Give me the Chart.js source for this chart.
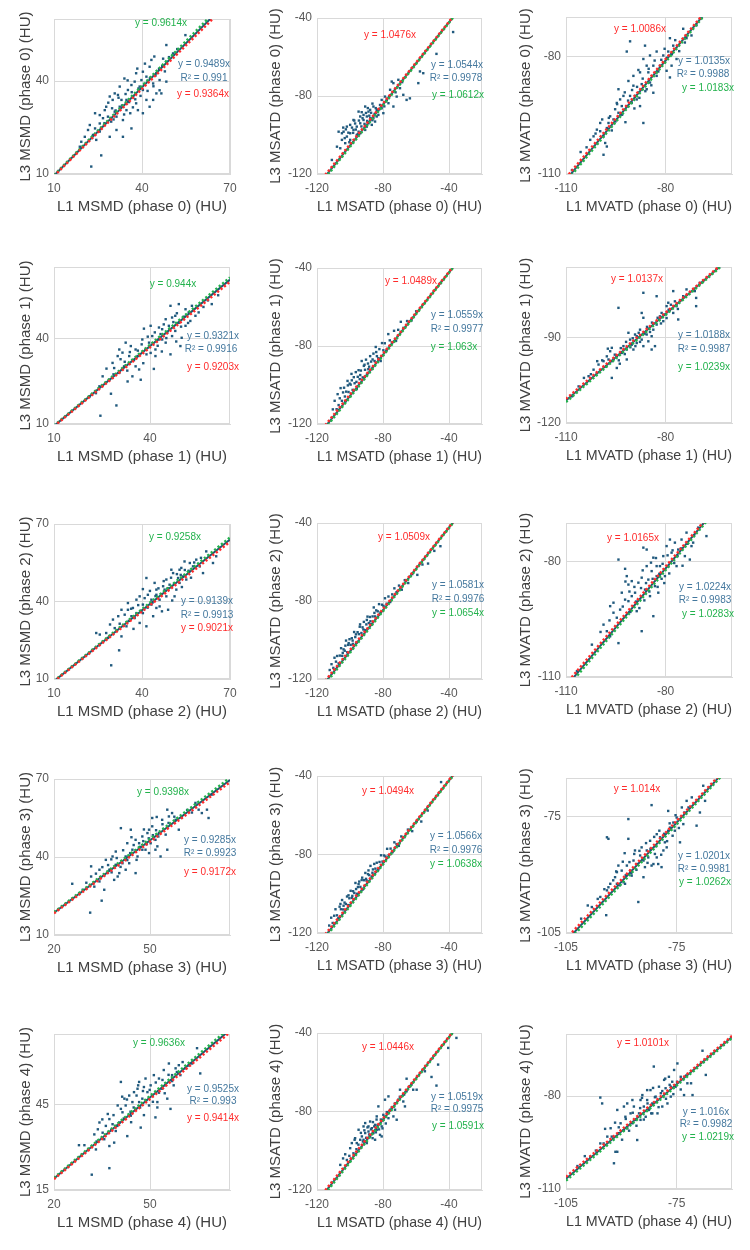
<!DOCTYPE html>
<html>
<head>
<meta charset="utf-8">
<script src="https://cdn.jsdelivr.net/npm/chart.js@4.4.0/dist/chart.umd.min.js"></script>
<style>
  body { margin: 0; background: #fff; width: 750px; height: 1250px; position: relative; overflow: hidden; }
  .cell { position: absolute; width: 250px; height: 250px; }
</style>
</head>
<body>
<script>
// measures and phases (panel order: row = phase, column = measure)
const measures = ['MSMD', 'MSATD', 'MVATD'];
const phases = [0, 1, 2, 3, 4];

// fitted slopes
const redSlopes   = [0.9364, 1.0476, 1.0086, 0.9203, 1.0489, 1.0137, 0.9021, 1.0509, 1.0165, 0.9172, 1.0494, 1.014, 0.9414, 1.0446, 1.0101];
const blueSlopes  = [0.9489, 1.0544, 1.0135, 0.9321, 1.0559, 1.0188, 0.9139, 1.0581, 1.0224, 0.9285, 1.0566, 1.0201, 0.9525, 1.0519, 1.016];
const greenSlopes = [0.9614, 1.0612, 1.0183, 0.944, 1.063, 1.0239, 0.9258, 1.0654, 1.0283, 0.9398, 1.0638, 1.0262, 0.9636, 1.0591, 1.0219];
const r2Values    = [0.991, 0.9978, 0.9988, 0.9916, 0.9977, 0.9987, 0.9913, 0.9976, 0.9983, 0.9923, 0.9976, 0.9981, 0.993, 0.9975, 0.9982];

// axis ranges and tick labels
const xRanges = [[10,70],[-120,-20],[-110,-60],[10,65],[-120,-20],[-110,-60],[10,70],[-120,-20],[-110,-60],[20,75],[-120,-20],[-105,-60],[20,75],[-120,-20],[-105,-60]];
const yRanges = [[10,60],[-120,-40],[-110,-70],[10,65],[-120,-40],[-120,-65],[10,70],[-120,-40],[-110,-70],[10,70],[-120,-40],[-105,-65],[15,70],[-120,-40],[-110,-60]];
const xTicks = [[10,40,70],[-120,-80,-40],[-110,-80],[10,40],[-120,-80,-40],[-110,-80],[10,40,70],[-120,-80,-40],[-110,-80],[20,50],[-120,-80,-40],[-105,-75],[20,50],[-120,-80,-40],[-105,-75]];
const yTicks = [[10,40],[-120,-80,-40],[-110,-80],[10,40],[-120,-80,-40],[-120,-90],[10,40,70],[-120,-80,-40],[-110,-80],[10,40,70],[-120,-80,-40],[-105,-75],[15,45],[-120,-80,-40],[-110,-80]];

// scatter points (L1, L3)
const msmd0 = [[22.7,12.4],[26.1,16],[18.8,18.8],[24.4,21],[25.6,23.7],[29,22],[31.3,24.2],[33.5,22],[36.4,24.7],[34,40.8],[25.6,29],[27.8,31.7],[30,33.9],[31.8,35.5],[34.7,33.9],[37,35],[38,32.8],[41.5,33.9],[39.2,38.2],[41.5,41.4],[43.8,39.2],[46,37],[46.6,36],[44.9,42.5],[48.3,46.2],[50.6,48.9],[48.3,51.6],[54.8,54.8],[47.2,47.2],[42.6,44.6],[40.3,43],[38,42.5],[36.4,38.7],[32.4,38.2],[30.7,36],[29,35],[27.3,30.6],[26.7,28],[24,29.6],[22.2,25.8],[21.6,24.2],[20.5,22],[19.3,20.4],[31.3,28.5],[33.5,27.4],[36,29.6],[38.6,30.6],[40.3,29.6],[42.6,31.7],[43.8,33.9],[44.9,36],[46,40.3],[48.3,39.8],[43.2,46.8],[40.3,37.1],[32.4,31.7],[30.7,30.1],[33,33.9],[35.2,37.1],[37.5,39.8],[39.8,40.3],[34.7,30.6],[29.5,26.9],[25.6,26.3],[24,24.7],[28.4,28.5],
  [28.5,33],[29.8,31.2],[31,30.5],[32,34.6],[33.2,32.1],[34.4,35.8],[35.6,33.2],[36.5,36.4],[37.7,34.1],[38.8,37.6],[39.5,35.2],[40.8,38.9],[41.9,36.8],[42.7,40.9],[43.9,38.3],[44.6,41.8],[45.8,43.9],[46.9,44.8],[47.8,43.1],[49.2,47.7],[36.9,31.5],[33.9,29.2],[30.3,27.6],[27.2,26.4],[23.3,22.6],[35.1,40.2],[38.4,44],[41,45.6],[44.2,47.9],[52,50.3]];
const msatd0 = [[-107.9,-106],[-111,-112.8],[-104.9,-102.5],[-103.9,-98.3],[-101.9,-100.8],[-99.9,-99.1],[-97.9,-97.4],[-95.9,-95.7],[-93.8,-94],[-91.8,-92.3],[-89.8,-90.5],[-88.8,-88],[-87.8,-87.1],[-85.8,-85.4],[-83.8,-87.1],[-81.8,-84.6],[-80.8,-82],[-78.8,-80.3],[-75.7,-76.8],[-73.7,-73.4],[-70.7,-71.7],[-74.7,-72.6],[-69.7,-76],[-67.7,-79.4],[-65.7,-82],[-63.7,-81.2],[-73.7,-85.4],[-76.7,-83.7],[-79.8,-88.8],[-83.8,-90.5],[-86.8,-94.8],[-90.8,-97.4],[-93.8,-99.1],[-95.9,-100],[-99.9,-102.5],[-102.9,-104.2],[-105.9,-106.8],[-106.9,-98.3],[-104.9,-99.1],[-101.9,-95.7],[-99.9,-94.8],[-93.8,-90.5],[-91.8,-89.7],[-88.8,-94],[-85.8,-91.4],[-82.8,-89.7],[-80.8,-86.3],[-77.7,-82],[-71.7,-80.3],[-57.6,-67.4],[-55.6,-68.3],[-58.6,-73.4],[-47.6,-58.4],[-37.5,-47.2],[-90.8,-85.4],[-94.8,-88],[-97.9,-92.3],[-87.8,-91.4],[-84.8,-93.1],[-89.8,-95.7],[-94.8,-98.3],
  [-103.2,-101.6],[-102.5,-97.1],[-101,-98.8],[-100.4,-103.7],[-98.8,-96.2],[-98.1,-98.9],[-96.9,-94.1],[-96.5,-97.2],[-95.3,-99.6],[-94.6,-92.6],[-93.1,-95.6],[-92.4,-91.4],[-91.2,-94.3],[-90.3,-88.7],[-89.6,-92.8],[-88.3,-90.1],[-87.2,-88.6],[-86.4,-92.4],[-85.1,-89.2],[-84.4,-86.2],[-82.2,-86.8],[-79.2,-85.3],[-76.3,-80.2],[-72.4,-78.1],[-68.4,-72.9],[-104.1,-96.2],[-97.4,-92.6],[-92.9,-88.3],[-89.2,-86.2],[-86.4,-83.9]];
const mvatd0 = [[-108.2,-109],[-102.7,-101.3],[-99.7,-97],[-100.7,-98.7],[-97.7,-98.3],[-98.7,-100.4],[-98.2,-102.1],[-97.7,-103],[-98.7,-105.1],[-96.7,-95.3],[-95.2,-93.5],[-94.2,-94.4],[-93.7,-91],[-94.2,-88.4],[-92.7,-90.1],[-91.7,-92.7],[-90.7,-90.1],[-91.2,-86.3],[-89.7,-87.5],[-88.7,-91],[-87.7,-92.7],[-86.7,-97],[-86.7,-80.7],[-91.7,-78.8],[-90.7,-76.2],[-86.2,-77.3],[-85.7,-82.4],[-85.2,-84.1],[-84.7,-86.7],[-83.7,-89.3],[-82.7,-85],[-81.7,-82.4],[-80.7,-79.8],[-80.2,-81.5],[-79.2,-78.8],[-78.7,-75.4],[-77.7,-77.3],[-78.2,-82.4],[-78.7,-85.4],[-76.7,-80.7],[-74.7,-73],[-73.7,-75.4],[-72.2,-74.7],[-70.7,-72.1],[-82.7,-78.8],[-84.7,-79.8],[-87.7,-84.1],[-89.7,-85],[-85.7,-88.4],[-89.2,-90.1],[-93.2,-92.7],[-95.7,-96.1],[-97.2,-97],[-94.7,-91.9],[-90.2,-91.9],[-88.2,-89.3],[-87.2,-87.1],[-99.7,-99.1],[-101.7,-100.4],[-83.7,-82.4],[-79.7,-83.7],
  [-97.1,-95.7],[-96.2,-98.9],[-95.1,-96.6],[-94.6,-92.2],[-93.1,-94.9],[-92.3,-89.2],[-91.3,-91.3],[-90.1,-88.6],[-89.4,-93.3],[-88.6,-87.8],[-87.9,-90.6],[-86.9,-85.7],[-86.1,-88.9],[-85.1,-83.2],[-84.3,-87.4],[-83.3,-81.1],[-82.2,-83.9],[-81.3,-80.9],[-80.3,-78.1],[-79.6,-80.4],[-78.1,-79.5],[-77.1,-75.9],[-75.9,-78.7],[-74.2,-76.5],[-101.1,-99.7],[-103.8,-103.2],[-105.6,-104.4],[-99.1,-96.1],[-92.1,-96.8],[-88.2,-83.5]];
const msmd1 = [[24.5,12.9],[29.5,16.5],[27.8,20.6],[26.2,24.4],[26.4,29.4],[28.3,31.4],[29.9,33.8],[30.4,27.9],[31.9,30.2],[33,24.9],[34.5,26.7],[35.5,30.2],[36.6,29.1],[37.1,25.5],[34,37.3],[35.5,36.1],[38.1,43.4],[38.6,36.1],[39.7,38.5],[40.7,40.8],[41.2,29.3],[41.7,36.1],[42.8,39.6],[43.8,43.2],[44.9,38.5],[45.9,44.4],[46.4,34.4],[46.9,40.8],[47.9,47.9],[49,45.5],[49.5,37.3],[49.9,40.2],[46.4,51.4],[46.9,47.3],[49,52],[51.1,50.2],[52.1,49.1],[53.1,51.4],[54.2,47.9],[55.2,49.1],[59.3,52],[52.6,46.1],[51.1,44.4],[44.9,46.7],[43.8,39.6],[37.6,39.6],[36.1,33.8],[33.5,33.8],[31.4,35],[30.4,36.1],[32.4,38.5],[28.8,29.6],[27.3,25.5],[24.2,23.2],[23.1,20.8],[21.1,19.6],[42.8,43.8],[40.2,44.4],[45.4,42],[47.9,42.6],[41.7,33.8],[40.2,34.9],
  [30.8,32.7],[32.1,31.8],[33.7,35.2],[35,32.4],[36.2,35.7],[37.4,37.9],[38.9,34.4],[39.3,40.6],[40.9,38.1],[41.5,42.1],[42.4,37.4],[43.3,41.5],[44.3,44.9],[45.1,40.1],[46.1,43.2],[47.3,45.7],[48.4,48.8],[49.7,44.1],[50.6,47.6],[51.9,45.4],[53.6,49.8],[56.7,51],[58.1,53.3],[61.3,55.1],[25.2,26.7],[28.6,27.4],[32.9,28.7],[37.9,31.3],[43.7,35.4],[48.2,38.9]];
const msatd1 = [[-110.4,-112.5],[-109.3,-108.1],[-108.1,-112.4],[-107.5,-104.7],[-106.2,-106.8],[-105.7,-101.6],[-104.9,-108.1],[-104.2,-103.8],[-103.6,-101.4],[-102.8,-108.5],[-102.3,-103.4],[-101.5,-97.9],[-100.9,-103.6],[-100.2,-99.3],[-99.6,-99.8],[-99.1,-94.3],[-98.4,-102.5],[-97.7,-96],[-97.2,-99.1],[-96.5,-93.4],[-95.9,-102.1],[-95.3,-95.8],[-94.8,-92.4],[-94.1,-97],[-93.4,-92.6],[-92.9,-87.7],[-92.3,-96.1],[-91.6,-90.2],[-90.9,-92.2],[-90.3,-87],[-89.7,-94.6],[-89.1,-89],[-88.4,-90.6],[-87.8,-85.2],[-87.2,-88],[-86.5,-91.6],[-85.8,-83.9],[-85.1,-87.7],[-84.4,-80.5],[-83.7,-85.2],[-82.9,-86.3],[-82.2,-81.6],[-81.4,-87.7],[-80.6,-78.5],[-79.8,-82.2],[-78.9,-78.6],[-77.9,-82.3],[-76.8,-73.9],[-75.9,-77.1],[-74.6,-78.2],[-73.3,-72.2],[-72.1,-77.4],[-70.8,-71.7],[-69.2,-67.6],[-67.6,-70.7],[-65.4,-67.2],[-62.7,-66.9],[-59.9,-62.2],[-45.1,-47.7],
  [-101.3,-100.2],[-98.9,-97.6],[-96.1,-98.4],[-93.8,-94.9],[-91.2,-89.6],[-88.9,-91.9],[-86.3,-86.9],[-84.1,-83.1],[-106.9,-110.3],[-103.1,-105.9]];
const mvatd1 = [[-108.2,-110.6],[-106.2,-107.1],[-103.2,-103.5],[-100.2,-99.4],[-97.2,-97.6],[-96.7,-94.7],[-96.2,-104.1],[-94.7,-100.6],[-93.2,-95.3],[-92.7,-92.9],[-91.7,-94.1],[-91.2,-88.2],[-90.7,-90.6],[-89.2,-88.8],[-88.7,-91.8],[-91.7,-97.6],[-87.7,-87.1],[-86.7,-92.9],[-86.7,-82.9],[-85.7,-88.8],[-85.2,-91.2],[-84.2,-94.1],[-83.7,-87.1],[-83.2,-92.9],[-82.7,-85.3],[-94.2,-79.4],[-87.2,-81.2],[-86.7,-74.1],[-82.7,-75.3],[-81.7,-82.4],[-80.7,-84.1],[-79.7,-78.8],[-79.2,-77.6],[-78.7,-80],[-77.7,-73.5],[-77.7,-81.2],[-76.7,-78.8],[-76.2,-83.5],[-74.7,-75.3],[-73.7,-72.9],[-71.2,-73.5],[-70.8,-75.9],[-70.8,-78.8],[-69.7,-70.6],[-68.7,-70],[-97.7,-96.5],[-98.7,-98.2],[-100.7,-102.4],[-101.7,-101.2],[-89.7,-94.1],[-88.7,-89.4],[-87.2,-90.6],[-84.2,-89.4],[-94.7,-96.5],[-95.7,-97.6],[-90.2,-92.4],[-79.7,-83],[-81.2,-81.2],[-96.2,-93.5],
  [-99.1,-97.9],[-97.9,-100.1],[-96.1,-98.2],[-95.3,-95.9],[-94.1,-97.9],[-93.5,-93.6],[-92.3,-95.7],[-91.9,-91.4],[-90.6,-93.3],[-89.9,-90.1],[-89.1,-92.9],[-88.1,-88.2],[-87.7,-91.4],[-86.3,-88.5],[-85.6,-86.1],[-84.7,-87.9],[-84.1,-84.6],[-82.4,-82.9],[-81.4,-84.9],[-80.4,-81.8],[-79.1,-80.1],[-78.4,-78.3],[-77.2,-77.1],[-76.3,-79.8],[-75.4,-76.7],[-104.6,-104.1],[-102.5,-102.8],[-100.6,-98.2],[-97.4,-93.8],[-93.8,-99.1]];
const msmd2 = [[29.5,15.3],[32.2,21.1],[25.6,27.2],[30.1,33],[30.7,29.7],[33,26.5],[34.7,30.4],[35.2,36.8],[33,36.8],[35.2,39.4],[36.9,37.5],[38.1,35.5],[39.2,42],[39.2,31.7],[40.3,35.5],[41.5,30.4],[41.5,49.1],[40.3,44.8],[42,42.6],[43.2,40.7],[43.8,34.3],[44.3,47.2],[44.9,44.6],[46,40.7],[46,38.1],[47.2,45.9],[48.3,48.5],[48.3,42],[48.9,36.8],[49.4,46.5],[50.6,51],[51.1,42],[51.7,44.6],[52.8,52.3],[52.8,47.2],[53.4,53],[54,49.7],[55.1,48.5],[56.3,54.9],[57.4,53.6],[58.5,56.2],[59.7,53.6],[60.8,51],[61.9,59.4],[64.2,54.9],[65.3,57.5],[54.5,55.5],[50,52.3],[44.9,42.6],[38.1,40.7],[36.4,34.3],[34.1,34.9],[31.9,34.3],[27.8,27.8],[28.4,25.9],[25.6,23.3],[24.4,27.8],[43.2,38.8],[47.7,44.6],[40.3,38.8],[44.9,37.5],[52.3,49.1],
  [36.3,37.2],[37.5,33.6],[38.7,38.6],[39.8,36.4],[40.9,41.3],[41.9,37.6],[42.7,44.1],[43.6,39.6],[44.6,42.1],[45.6,45.1],[46.6,42.9],[47.4,47.9],[48.8,45.1],[49.9,49.2],[50.9,46.8],[51.9,50.6],[53.2,50.3],[54.6,52.2],[55.9,51.9],[57.8,55.1],[60.1,56.9],[62.8,57.6],[32.4,31.4],[35.5,32.5],[37.1,29.4],[29.1,31.1],[46.8,36.2],[50.3,40.4],[53.6,45.6],[56.7,49.2]];
const msatd2 = [[-112.3,-115.4],[-111.2,-112.4],[-110.1,-114.3],[-109.4,-109.1],[-108.5,-111.1],[-107.8,-108.2],[-106.9,-112],[-106.2,-108],[-105.4,-104.2],[-104.7,-108.1],[-103.9,-104.8],[-103.2,-105.5],[-102.4,-100.3],[-101.7,-106.3],[-101.1,-102.5],[-100.3,-99.6],[-99.6,-102.5],[-98.9,-99.1],[-98.2,-102],[-97.5,-95.9],[-96.8,-98.5],[-96.1,-101.4],[-95.4,-96],[-94.6,-97],[-93.9,-92],[-93.1,-96.4],[-92.4,-93.5],[-91.6,-90.7],[-90.9,-95],[-90.1,-92],[-89.4,-88],[-88.6,-91.3],[-87.9,-88.2],[-87.1,-91.9],[-86.3,-87.9],[-85.6,-83.3],[-84.8,-87.9],[-84.1,-84.8],[-83.2,-85.3],[-82.4,-81.6],[-81.5,-85.9],[-80.6,-81.9],[-79.7,-82.5],[-78.8,-78.6],[-77.8,-81.4],[-76.7,-77.7],[-75.6,-80.5],[-74.4,-76.6],[-73.1,-73.5],[-71.8,-75.5],[-70.3,-72.1],[-68.6,-74.2],[-66.8,-69.3],[-64.7,-70.8],[-62.3,-66.2],[-59.2,-66.6],[-56.1,-61.3],[-52.7,-60.8],[-48.9,-54.3],[-45.2,-51.9],
  [-100.8,-101.6],[-98.4,-100.3],[-96.4,-97.1],[-94.1,-93.2],[-91.9,-94.6],[-89.8,-89.7],[-87.6,-90.4],[-85.2,-86.1],[-104.4,-106.6],[-102.8,-102.9]];
const mvatd2 = [[-106.7,-108.5],[-102.2,-101.6],[-98.7,-96.4],[-97.7,-98.1],[-96.7,-99.4],[-95.7,-93.3],[-94.2,-101.2],[-94.7,-94.6],[-94.2,-79.5],[-92.2,-81.9],[-91.7,-83.8],[-91.2,-86],[-91.2,-90.3],[-90.2,-89],[-89.7,-91.6],[-89.2,-88.1],[-88.7,-92.9],[-88.2,-85.5],[-87.7,-89.9],[-87.2,-98.1],[-86.7,-76.4],[-86.2,-87.3],[-85.7,-76.9],[-85.2,-84.7],[-84.7,-89],[-84.2,-82.5],[-83.7,-94.2],[-83.2,-86.4],[-82.7,-83.8],[-82.2,-88.1],[-81.7,-81.2],[-81.2,-84.5],[-80.7,-78.6],[-80.2,-83.8],[-79.7,-76],[-79.2,-81.2],[-78.7,-74.3],[-78.2,-77.7],[-77.7,-79.5],[-77.2,-75.1],[-76.7,-81.2],[-76.2,-76.9],[-75.2,-74.3],[-74.2,-78.6],[-73.7,-72.5],[-72.7,-79.5],[-72.2,-76],[-71.7,-75.1],[-70.2,-71.2],[-67.7,-73.4],[-93.2,-88.1],[-95.7,-90.7],[-96.7,-91.6],[-93.7,-92.5],[-92.2,-89.9],[-85.7,-81.2],[-82.7,-81.2],[-83.7,-79],[-87.2,-84.2],[-90.2,-85.1],
  [-92.9,-91.7],[-92.1,-85.2],[-90.9,-87.8],[-90.6,-93.1],[-89.4,-86.6],[-88.9,-90.4],[-87.9,-92.1],[-87.4,-86.9],[-86.9,-82.3],[-86.4,-90.1],[-85.9,-85.6],[-84.9,-87.8],[-84.4,-80.3],[-83.9,-84.5],[-82.9,-79.1],[-82.4,-86.6],[-81.9,-83.2],[-80.9,-80.6],[-80.4,-85.6],[-79.4,-78.4],[-78.9,-83.1],[-77.9,-77.1],[-77.4,-80.4],[-76.4,-78.6],[-75.4,-76.6],[-74.9,-81.1],[-73.4,-75.4],[-71.4,-73.2],[-96.9,-95.3],[-99.6,-98.3]];
const msmd3 = [[31.3,18.6],[34.9,23.2],[35.7,27.4],[25.7,29.7],[31.6,32.5],[31.6,36.4],[34.2,35.1],[36.2,38.9],[38.3,40.2],[39.3,37],[40.4,33.8],[39.9,32.5],[42.4,40.2],[42.9,45.3],[43.5,37.6],[44.5,42.8],[45.5,33.8],[46.1,40.2],[46.6,45.3],[47.6,47.9],[48.6,42.8],[49.2,49.2],[50.2,45.3],[50.7,51.8],[51.7,46.6],[52.3,44.1],[52.8,49.2],[53.3,40.2],[53.8,54.3],[54.3,50.5],[55.4,58.2],[55.9,55.6],[56.9,56.9],[58,54.3],[59,50.5],[50.7,55],[40.9,51.1],[44,50.5],[69.3,64],[67.8,58.2],[66.2,56.9],[64.2,60.8],[68.3,55],[65.2,58.2],[55.4,42.8],[39.3,42.1],[37.3,35.1],[35.7,33.1],[34.2,30.6],[32.6,28.6],[29,27.4],[38.8,31.2],[47.6,42.8],[49.7,41.5],[45.5,46.6],[41.4,37.6],[42.4,35.1],[51.7,42.8],[56.4,52.4],[49.7,50.5],
  [36.9,36.9],[38,34.1],[39.6,39.6],[40.8,36.2],[41.6,42.6],[42.9,38.8],[43.8,41.5],[44.9,44.6],[45.8,38.9],[46.9,43.9],[47.9,46.1],[48.9,44.9],[49.6,47.2],[50.9,48.4],[51.9,50.3],[52.6,47.9],[53.9,52.6],[54.9,48.6],[55.8,53.1],[57.6,55.5],[59.9,55.2],[61.6,58.1],[63.1,57.1],[33.1,33.6],[35.1,36.1],[30.1,30.1],[44.2,47.6],[48.1,50.6],[52.1,55.4],[37.9,39.1]];
const msatd3 = [[-112.6,-116.2],[-111.4,-112.2],[-110.5,-114.9],[-109.6,-111.2],[-108.8,-107.9],[-107.9,-111],[-107.1,-112.5],[-106.3,-106.6],[-105.5,-107.9],[-104.8,-103.2],[-104.1,-108],[-103.3,-104.5],[-102.5,-105.2],[-101.8,-101.4],[-101.1,-105.8],[-100.4,-102.3],[-99.6,-98.5],[-98.9,-102.1],[-98.1,-98.7],[-97.4,-99.6],[-96.7,-94.5],[-95.9,-100],[-95.2,-96.6],[-94.4,-93.8],[-93.7,-96.5],[-92.9,-93],[-92.2,-97.8],[-91.4,-93.1],[-90.7,-89.4],[-89.9,-93.3],[-89.1,-90],[-88.4,-90.5],[-87.6,-85.8],[-86.9,-91.2],[-86.1,-87.6],[-85.3,-84.8],[-84.6,-87.2],[-83.8,-84.2],[-82.9,-87.8],[-82.1,-83.8],[-81.2,-80.4],[-80.3,-83.6],[-79.4,-80.5],[-78.5,-81],[-77.5,-77.1],[-76.5,-80.4],[-75.4,-77],[-74.2,-78.8],[-73.1,-73.8],[-71.8,-74.7],[-70.4,-75.6],[-68.9,-70.8],[-67.1,-71.2],[-64.9,-67.3],[-62.3,-68.1],[-59.6,-63.2],[-56.8,-63.2],[-52.9,-57.6],[-44.8,-43.1],
  [-100.9,-100.8],[-98.6,-101.1],[-96.3,-97.6],[-94.8,-95.1],[-92.6,-91.8],[-90.3,-92.4],[-88.8,-88.1],[-86.4,-89.3],[-103.9,-106.1],[-105.8,-105.2]];
const mvatd3 = [[-100.9,-101.3],[-98,-98.3],[-95.7,-95.7],[-94.1,-100.4],[-93.9,-94],[-93.5,-93.2],[-93,-92.3],[-91.7,-90.6],[-91.2,-89.3],[-89.9,-88.9],[-89.4,-91.9],[-89,-92.3],[-88.5,-87.6],[-88.1,-80.7],[-87.6,-88.9],[-86.7,-86.3],[-86.3,-83.7],[-85.8,-87.2],[-85.4,-97],[-84.9,-85],[-84.5,-82.9],[-84,-86.3],[-83.6,-88],[-83.1,-83.7],[-82.7,-85.5],[-82.2,-81.2],[-81.8,-72],[-81.3,-87.2],[-80.9,-84.6],[-80.4,-79.5],[-80,-87.2],[-79.5,-80.3],[-79.1,-88],[-78.6,-83.7],[-78.2,-81.6],[-77.7,-82.9],[-77.3,-73.5],[-76.8,-77.8],[-75.9,-76.5],[-75.5,-78.6],[-75,-75.2],[-74.1,-81.6],[-73.6,-72.6],[-73.2,-76.9],[-72.3,-70.9],[-70.9,-70],[-69.6,-77.3],[-68.7,-73.9],[-67.8,-67],[-67.3,-70.9],[-93.9,-80.3],[-93.5,-80.7],[-88.1,-75.6],[-90.8,-87.6],[-87.2,-90.2],[-84,-90.6],[-80.4,-85.5],[-81.8,-87.6],[-77.3,-78.6],[-91.2,-92.3],
  [-92.2,-91.4],[-91.4,-89.1],[-90.4,-92.7],[-89.6,-86.6],[-88.8,-90.1],[-87.8,-86.7],[-87.3,-89.6],[-86.5,-84.6],[-85.9,-88.7],[-85.1,-83.8],[-84.2,-85.9],[-83.3,-81.8],[-82.9,-86.9],[-82.1,-83.3],[-81.1,-80.2],[-80.6,-82.6],[-79.7,-78.6],[-79.2,-84.8],[-78.4,-79.4],[-77.6,-81.3],[-76.9,-76.7],[-76.1,-79.9],[-75.3,-74.6],[-74.4,-77.9],[-72.9,-73.9],[-71.8,-72.6],[-96.4,-96.2],[-99.1,-97.9],[-94.6,-93.7],[-89.1,-84.4]];
const msmd4 = [[31.8,20.4],[37.3,22.7],[27.8,30.8],[29.5,30.8],[33.1,29.3],[32.6,34.6],[33.7,36.4],[35.7,32.9],[36.2,37.6],[36.8,41.8],[37.3,40],[38.3,38.2],[38.8,31.7],[39.3,35.8],[40.4,38.8],[40.9,53.1],[41.4,42.4],[42.4,44.8],[42.9,34],[43.5,48.3],[44,41.2],[44.5,46],[45,49.5],[45.5,43.6],[46.1,50.7],[46.6,46],[47.1,37],[47.6,47.2],[48.6,54.3],[49.2,49.5],[49.7,44.8],[50.2,51.9],[50.7,48.3],[51.7,40.6],[52.3,46],[52.8,54.3],[53.8,50.7],[54.3,57.3],[54.8,51.9],[55.4,47.2],[55.9,59.6],[56.4,43.6],[56.9,55.5],[57.4,51.9],[59,59],[59.5,55.5],[61.1,57.9],[63.1,59.6],[65.7,56.1],[64.7,65],[34.2,38.8],[35.2,35.2],[39.9,44.8],[42,47.2],[48.1,51.3],[51.2,55.5],[58,57.9],[37.3,30.5],[46.6,53.1],
  [38.6,41.4],[39.8,37.6],[40.9,43.6],[41.8,40.2],[42.8,46.9],[43.9,42.6],[44.9,44.1],[45.8,48.3],[46.9,44.1],[47.8,49.9],[48.8,46.6],[49.9,50.3],[50.9,46.1],[51.8,52.9],[52.8,49.3],[53.9,53.8],[54.6,49.1],[55.8,55.6],[56.9,53.4],[58.4,56.6],[60.2,60.1],[62.1,58.9],[35.1,39.9],[37.9,36.1],[33.3,32.1],[44.1,38.9],[48.1,41.4],[52.3,44.1],[46.3,51.9],[41.3,47.9]];
const msatd4 = [[-105.9,-107.2],[-101.9,-104.7],[-99.9,-98.7],[-97.9,-101.3],[-95.9,-96.1],[-93.8,-94.4],[-92.8,-92.7],[-91.8,-87.6],[-90.8,-91],[-89.8,-96.1],[-88.8,-90.2],[-87.8,-92.7],[-86.8,-88.5],[-85.8,-91],[-84.8,-86.8],[-83.8,-89.3],[-82.8,-77.4],[-81.8,-91.9],[-80.8,-87.6],[-79.8,-84.2],[-78.8,-74],[-77.7,-80.3],[-76.7,-83.4],[-75.7,-79.1],[-73.7,-82.5],[-71.7,-84.2],[-70.7,-74],[-69.7,-68.9],[-67.7,-74.9],[-66.7,-77.4],[-65.7,-63.3],[-63.7,-67.2],[-61.7,-68.9],[-59.6,-68.9],[-54.6,-59.5],[-50.6,-62.4],[-47.6,-66.8],[-46.6,-56.1],[-40.5,-47.6],[-35.5,-42.5],[-94.8,-89.3],[-90.8,-85.9],[-87.8,-85.1],[-83.8,-82.5],[-79.8,-81.7],[-84.8,-94.4],[-80.8,-92.7],[-98.9,-96.1],[-96.9,-93.6],[-91.8,-94.4],[-88.8,-87.6],[-76.7,-72.3],[-72.7,-79.1],[-65.7,-69.7],
  [-93.4,-90.9],[-92.2,-95.3],[-91.3,-89.6],[-90.2,-93.4],[-89.4,-88.1],[-88.4,-91.7],[-87.3,-89.1],[-86.3,-93.6],[-85.3,-87.6],[-84.3,-90.6],[-83.3,-86.9],[-82.4,-89.1],[-81.3,-84.1],[-80.3,-88.6],[-79.3,-82.7],[-78.3,-86.1],[-77.3,-80.9],[-74.7,-77.9],[-72.8,-75.9],[-69.8,-72.5],[-67.2,-71.4],[-62.8,-66.4],[-96.1,-99.2],[-94.9,-96.9],[-97.2,-94.4],[-102.9,-101.8],[-100.4,-102.6],[-104.2,-103.9],[-86.1,-85.4],[-83.9,-84.1]];
const mvatd4 = [[-95.7,-80.5],[-95.2,-82.4],[-94.8,-95.3],[-92.9,-90.4],[-92,-101.7],[-91.6,-98],[-91.1,-98],[-90.7,-92],[-90.2,-88.8],[-89.3,-83.4],[-88.9,-86.7],[-88.4,-90.4],[-87.5,-85.6],[-87,-81.3],[-86.6,-83.4],[-86.1,-87.7],[-85.7,-94.2],[-85.2,-85.6],[-84.8,-81.3],[-84.3,-79.7],[-83.9,-83.4],[-83.4,-86.7],[-83,-81.3],[-82.5,-84.5],[-82.1,-78.1],[-81.6,-82.4],[-81.2,-70.5],[-80.7,-80.2],[-80.2,-85.6],[-79.8,-77],[-79.3,-79.1],[-78.9,-83.4],[-78.4,-74.8],[-78,-77.5],[-77.5,-82.4],[-77.1,-73.8],[-76.6,-77],[-76.2,-75.4],[-75.7,-71.6],[-75.3,-77],[-74.8,-69.5],[-73.9,-73.8],[-73,-79.7],[-72.1,-75.9],[-70.7,-79.7],[-68,-65.4],[-67.1,-73.2],[-91.1,-84.5],[-93.8,-93.1],[-95.7,-95.3],[-98.4,-99.6],[-87,-88.8],[-84.8,-87.7],[-81.6,-85.6],[-89.3,-91],[-83,-78.1],[-76.6,-80.2],
  [-92.6,-93.1],[-91.7,-88.6],[-90.7,-90.1],[-89.8,-94.1],[-88.8,-87.4],[-87.9,-91.2],[-86.9,-85.4],[-85.9,-89.6],[-84.9,-83.9],[-83.9,-87.6],[-82.9,-82.4],[-81.9,-85.6],[-80.9,-80.4],[-79.9,-83.6],[-78.9,-78.4],[-77.9,-80.9],[-76.9,-76.4],[-75.9,-79.4],[-74.9,-75.4],[-73.9,-77.9],[-72.4,-73.4],[-71.1,-75.9],[-96.9,-97.6],[-99.9,-99.4],[-101.9,-102.6],[-94.4,-90.6],[-88.4,-82.4],[-84.4,-80.6],[-81.4,-77.4],[-78.1,-74.4]];

const pointSets = [msmd0, msatd0, mvatd0, msmd1, msatd1, mvatd1, msmd2, msatd2, mvatd2, msmd3, msatd3, mvatd3, msmd4, msatd4, mvatd4];

// layout: plot area inside each 250x250 cell [left, right, top, bottom]
const plotBoxes = [
  [54,230,19,174],[67,232,18,174],[66,232,17,174],
  [54,230,17,174],[67,232,18,174],[66,232,17,173],
  [54,230,24,179],[67,232,23,179],[66,232,23,177],
  [54,230,29,185],[67,232,26,183],[66,232,28,183],
  [54,230,34,190],[67,232,33,190],[66,232,34,189]
];
// label centres inside each cell: red, blue, r2, green
const labelSpots = [
  {r:[203,94], b:[204,64], q:[204,78], g:[161,23]},
  {r:[140,35], b:[207,65], q:[206,78], g:[208,95]},
  {r:[140,29], b:[204,61], q:[203,74], g:[208,88]},
  {r:[213,117], b:[213,86], q:[211,99], g:[173,34]},
  {r:[161,31], b:[207,65], q:[207,79], g:[204,97]},
  {r:[137,29], b:[204,85], q:[204,99], g:[204,117]},
  {r:[207,128], b:[207,101], q:[207,115], g:[175,37]},
  {r:[154,37], b:[208,85], q:[208,99], g:[208,113]},
  {r:[133,38], b:[205,87], q:[205,100], g:[208,114]},
  {r:[210,122], b:[210,90], q:[210,103], g:[163,42]},
  {r:[138,41], b:[206,86], q:[206,100], g:[206,114]},
  {r:[137,39], b:[204,106], q:[204,119], g:[205,132]},
  {r:[213,118], b:[213,89], q:[213,101], g:[159,43]},
  {r:[138,47], b:[207,97], q:[207,109], g:[208,126]},
  {r:[143,43], b:[206,112], q:[206,124], g:[208,137]}
];

const FONT = '"Liberation Sans", Arial, sans-serif';
const GRID = '#d9d9d9';
const RED = '#ff2b2b', GREEN = '#22b24c', BLUE_TXT = '#44789e', BLUE_LINE = '#1d5575', DOT = '#215a7e';

const framePlugin = {
  id: 'frame',
  beforeDatasetsDraw(chart) {
    const a = chart.chartArea, ctx = chart.ctx;
    ctx.save();
    ctx.strokeStyle = GRID;
    ctx.lineWidth = 1;
    ctx.strokeRect(a.left + 0.5, a.top + 0.5, a.right - a.left - 1, a.bottom - a.top - 1);
    ctx.restore();
  }
};

const labelPlugin = {
  id: 'eqLabels',
  afterDatasetsDraw(chart, args, opts) {
    const ctx = chart.ctx;
    ctx.save();
    ctx.font = '10px ' + FONT;
    ctx.textAlign = 'center';
    ctx.textBaseline = 'middle';
    opts.items.forEach(it => {
      ctx.fillStyle = it.color;
      ctx.fillText(it.text, it.pos[0], it.pos[1]);
    });
    ctx.restore();
  }
};

function makePanel(i) {
  const row = Math.floor(i / 3), col = i % 3;
  const [L, R, T, B] = plotBoxes[i];
  const [xmin, xmax] = xRanges[i];
  const [ymin, ymax] = yRanges[i];
  const m = measures[col], p = phases[row];

  const cell = document.createElement('div');
  cell.className = 'cell';
  cell.style.left = (col * 250) + 'px';
  cell.style.top = (row * 250) + 'px';
  const cv = document.createElement('canvas');
  cv.width = 250; cv.height = 250;
  cell.appendChild(cv);
  document.body.appendChild(cell);

  const fit = k => [{x: xmin, y: k * xmin}, {x: xmax, y: k * xmax}];
  const spots = labelSpots[i];

  new Chart(cv, {
    type: 'scatter',
    data: {
      datasets: [
        {type: 'line', data: fit(redSlopes[i]), borderColor: RED, borderWidth: 2.5, borderDash: [2.2, 2.2], pointRadius: 0, order: 1},
        {type: 'line', data: fit(greenSlopes[i]), borderColor: GREEN, borderWidth: 2.5, borderDash: [2.2, 2.2], pointRadius: 0, order: 2},
        {type: 'line', data: fit(blueSlopes[i]), borderColor: BLUE_LINE, borderWidth: 2, pointRadius: 0, order: 3},
        {data: pointSets[i].map(d => ({x: d[0], y: d[1]})), pointStyle: 'rect', pointRadius: 1.7,
         backgroundColor: DOT, borderWidth: 0, order: 4}
      ]
    },
    options: {
      responsive: false,
      animation: false,
      devicePixelRatio: 1,
      events: [],
      layout: {padding: {left: 0, right: 250 - R, top: T, bottom: 0}},
      plugins: {
        legend: {display: false},
        tooltip: {enabled: false},
        eqLabels: {items: [
          {text: 'y = ' + redSlopes[i] + 'x', color: RED, pos: spots.r},
          {text: 'y = ' + blueSlopes[i] + 'x', color: BLUE_TXT, pos: spots.b},
          {text: 'R\u00b2 = ' + r2Values[i], color: BLUE_TXT, pos: spots.q},
          {text: 'y = ' + greenSlopes[i] + 'x', color: GREEN, pos: spots.g}
        ]}
      },
      scales: {
        x: {
          type: 'linear', min: xmin, max: xmax,
          afterBuildTicks: s => { s.ticks = xTicks[i].map(v => ({value: v})); },
          afterFit: s => { s.height = 250 - B; s.paddingLeft = 0; s.paddingRight = 0; },
          grid: {color: GRID, drawTicks: false},
          border: {color: GRID},
          ticks: {padding: 7, color: '#595959', font: {family: FONT, size: 12}},
          title: {display: true, text: 'L1 ' + m + ' (phase ' + p + ') (HU)', color: '#404040',
                  font: {family: FONT, size: 15}, padding: {top: 0, bottom: 208 - B}}
        },
        y: {
          type: 'linear', min: ymin, max: ymax,
          afterBuildTicks: s => { s.ticks = yTicks[i].map(v => ({value: v})); },
          afterFit: s => { s.width = L; s.paddingTop = 0; s.paddingBottom = 0; },
          grid: {color: GRID, drawTicks: false},
          border: {color: GRID},
          ticks: {padding: 5, color: '#595959', font: {family: FONT, size: 12}},
          title: {display: true, text: 'L3 ' + m + ' (phase ' + p + ') (HU)', color: '#404040',
                  font: {family: FONT, size: 15}, padding: {top: 17, bottom: 0}}
        }
      }
    },
    plugins: [framePlugin, labelPlugin]
  });
}

pointSets.forEach((_, i) => makePanel(i));
</script>
</body>
</html>
